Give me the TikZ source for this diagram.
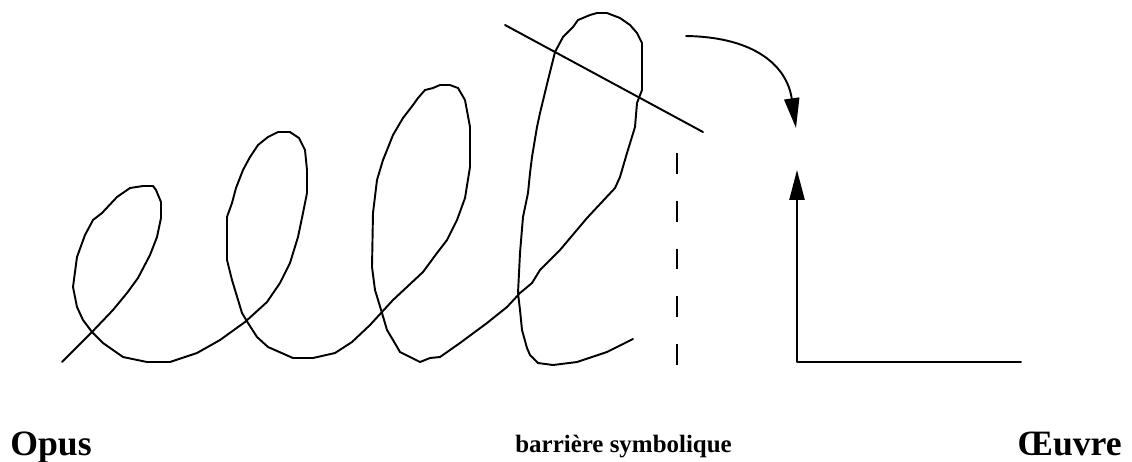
\documentclass[tikz,border=0pt]{standalone}
\usepackage{fontspec}
\setmainfont{Liberation Serif}
\usetikzlibrary{arrows.meta}
\tikzset{
  ink/.style={line width=1.1pt, line join=round, line cap=round},
  scribble/.style={ink},
  barrier/.style={line width=1.1pt, dash pattern=on 11.9pt off 15.3pt},
  arrowline/.style={ink, -{Triangle[length=17pt,width=8.6pt]}},
  biglabel/.style={anchor=base west, inner sep=0pt, font=\fontsize{20.3}{24}\selectfont\bfseries},
  smalllabel/.style={anchor=base west, inner sep=0pt, font=\fontsize{14.2}{17}\selectfont\bfseries}
}
\begin{document}
\begin{tikzpicture}[x=0.02cm, y=-0.02cm]
\useasboundingbox (0,0) rectangle (1132,461);
% scribble
\draw[scribble] (62,362) -- (92,332) -- (113,310) -- (127,293) -- (138,278) -- (150,255) -- (157,237) -- (161,218) -- (161,202) -- (156,190) -- (153,186) -- (143,186) -- (130,188) -- (117,197) -- (102,213) -- (93,220) -- (85,235) -- (77,257) -- (73,287) -- (77,307) -- (83,320) -- (92,332) -- (103,343) -- (123,357) -- (147,362) -- (170,362) -- (197,353) -- (220,340) -- (245,322) -- (267,302) -- (280,283) -- (290,263) -- (298,237) -- (303,213) -- (307,193) -- (307,170) -- (305,150) -- (299,138) -- (290,132) -- (278,132) -- (268,137) -- (258,145) -- (250,157) -- (243,170) -- (236,188) -- (232,203) -- (227,217) -- (227,260) -- (232,280) -- (242,313) -- (248,323) -- (257,337) -- (268,347) -- (293,358) -- (313,358) -- (335,353) -- (352,342) -- (370,325) -- (393,300) -- (423,272) -- (437,253) -- (447,240) -- (457,220) -- (465,198) -- (470,167) -- (470,127) -- (465,100) -- (458,88) -- (450,85) -- (440,85) -- (433,88) -- (425,90) -- (418,98) -- (413,105) -- (403,118) -- (393,135) -- (383,160) -- (377,180) -- (373,213) -- (372,267) -- (375,290) -- (382,313) -- (387,330) -- (393,340) -- (400,352) -- (420,362) -- (430,358) -- (440,357) -- (460,343) -- (487,323) -- (507,307) -- (520,293) -- (532,283) -- (540,270) -- (560,250) -- (587,218) -- (615,188) -- (620,177) -- (627,153) -- (635,127) -- (637,103) -- (642,90) -- (642,43) -- (637,33) -- (630,25) -- (620,18) -- (607,13) -- (597,13) -- (590,15) -- (578,20) -- (573,27) -- (563,37) -- (555,52) -- (548,80) -- (540,113) -- (537,127) -- (532,157) -- (530,173) -- (528,193) -- (523,217) -- (520,253) -- (518,293) -- (520,310) -- (522,330) -- (527,348) -- (530,355) -- (538,363) -- (553,365) -- (577,362) -- (607,352) -- (633,339);
% slanted line
\coordinate (slA) at (505,25);
\coordinate (slB) at (703,132);
\draw[ink] (slA) -- (slB);
% dashed barrier
\coordinate (barTop) at (677,153);
\coordinate (barBot) at (677,367);
\draw[barrier] (barTop) -- (barBot);
% curved arrow
\coordinate (cStart) at (686,36);
\coordinate (cTip) at (796,128);
\draw[arrowline] (cStart) .. controls (755,37) and (787,66) .. (cTip);
% axes
\coordinate (axTip) at (797,170);
\coordinate (axCorner) at (797,362);
\coordinate (axEnd) at (1021,362);
\draw[arrowline] (axEnd) -- (axCorner) -- (axTip);
% labels
\node[biglabel] (opus) at (10,455) {Opus};
\node[smalllabel] (barr) at (515,452) {barrière symbolique};
\node[biglabel] (oeuvre) at (1017,455) {Œuvre};
\end{tikzpicture}
\end{document}
